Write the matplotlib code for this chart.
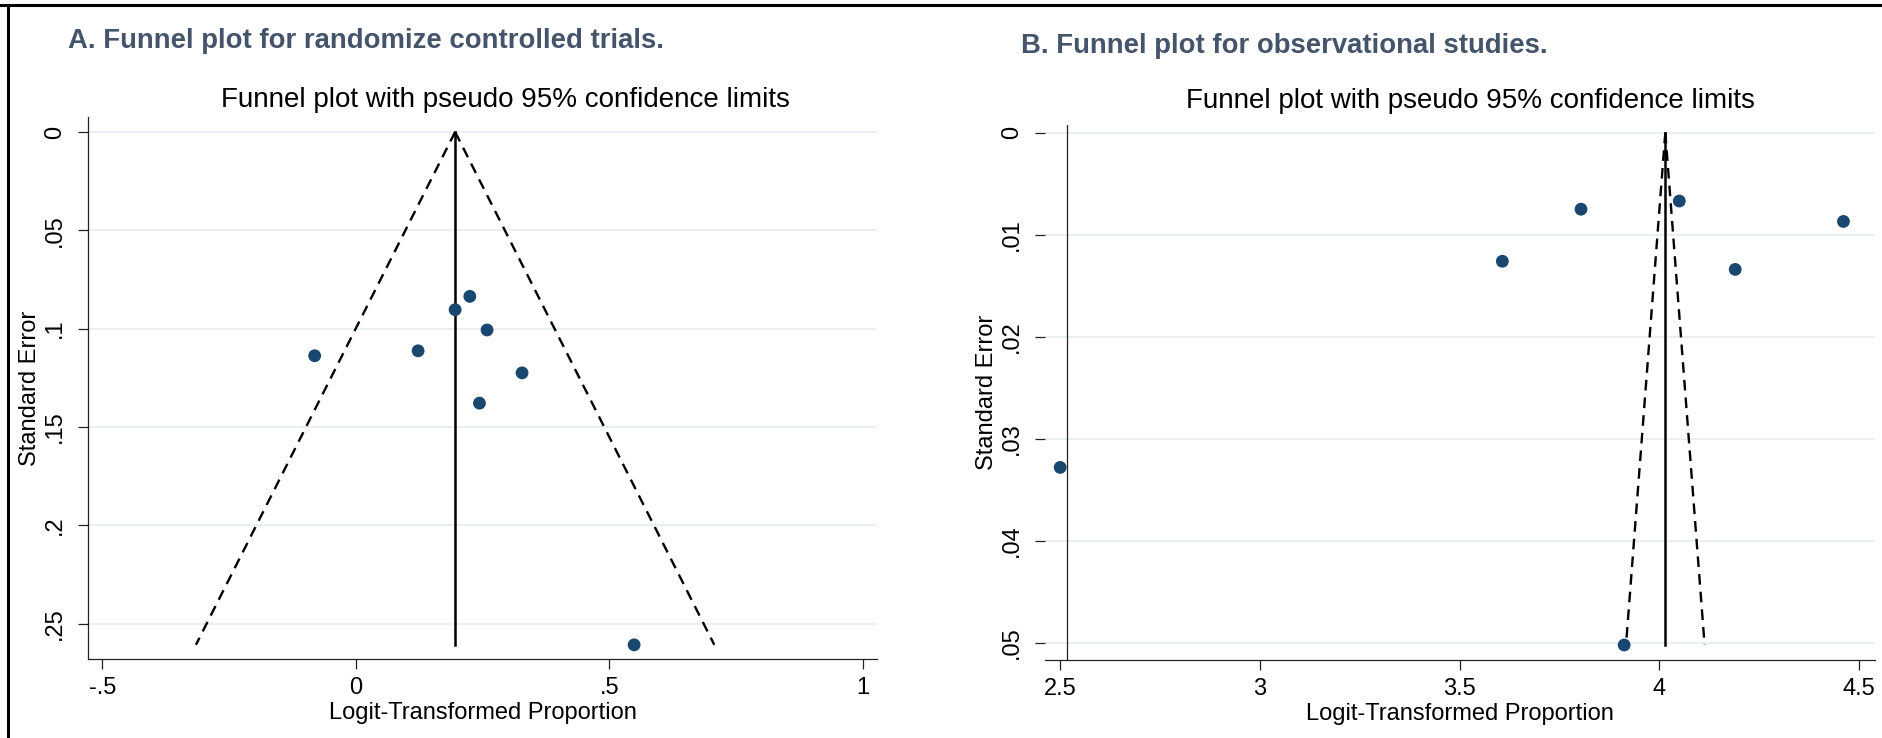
import matplotlib
matplotlib.use("Agg")
import matplotlib.pyplot as plt
from matplotlib.lines import Line2D
import numpy as np

# ---------------- data ----------------
rct_effect = [-0.081, 0.123, 0.196, 0.225, 0.259, 0.328, 0.244, 0.549]
rct_se = [0.1138, 0.1113, 0.0904, 0.0836, 0.1007, 0.1225, 0.1379, 0.2608]
rct_pooled = 0.196

obs_effect = [2.500, 3.607, 3.804, 3.912, 4.050, 4.190, 4.461]
obs_se = [0.0328, 0.0126, 0.0075, 0.0502, 0.0067, 0.0134, 0.0087]
obs_pooled = 4.015

rct_xticks = [-0.5, 0, 0.5, 1]
rct_xticklabels = ["-.5", "0", ".5", "1"]
rct_yticks = [0, 0.05, 0.1, 0.15, 0.2, 0.25]
rct_yticklabels = ["0", ".05", ".1", ".15", ".2", ".25"]

obs_xticks = [2.5, 3, 3.5, 4, 4.5]
obs_xticklabels = ["2.5", "3", "3.5", "4", "4.5"]
obs_yticks = [0, 0.01, 0.02, 0.03, 0.04, 0.05]
obs_yticklabels = ["0", ".01", ".02", ".03", ".04", ".05"]

panel_titles = ["A. Funnel plot for randomize controlled trials.",
                "B. Funnel plot for observational studies."]
sub_title = "Funnel plot with pseudo 95% confidence limits"
xlabel = "Logit-Transformed Proportion"
ylabel = "Standard Error"

# ---------------- style ----------------
W, H = 1882, 738
FONT = "Liberation Sans"
MARKER = "#1a476f"
GRID = "#e9f0f2"
TITLE_COL = "#44546a"

fig = plt.figure(figsize=(W / 100, H / 100), dpi=100)
fig.patch.set_facecolor("white")


def px_axes(left, top, right, bottom):
    return fig.add_axes([left / W, 1 - bottom / H, (right - left) / W, (bottom - top) / H])


def funnel(ax, eff, se, pooled, xlim, ylim, xt, xtl, yt, ytl):
    semax = max(se)
    s = np.array([0.0, semax])
    dash = (0, (4.5, 3))
    ax.plot(pooled - 1.96 * s, s, color="black", lw=1.7, ls=dash, zorder=3)
    ax.plot(pooled + 1.96 * s, s, color="black", lw=1.7, ls=dash, zorder=3)
    ax.plot([pooled, pooled], [0, semax], color="black", lw=1.8, zorder=3)
    ax.scatter(eff, se, s=85, color=MARKER, edgecolor="none", zorder=4)
    ax.set_xlim(*xlim)
    ax.set_ylim(*ylim)
    ax.set_xticks(xt)
    ax.set_xticklabels(xtl)
    ax.set_yticks(yt)
    ax.set_yticklabels(ytl, rotation=90, va="center")
    ax.grid(axis="y", color=GRID, lw=1.4, zorder=0)
    ax.set_axisbelow(True)
    for sp in ["top", "right"]:
        ax.spines[sp].set_visible(False)
    for sp in ["left", "bottom"]:
        ax.spines[sp].set_color("#222222")
        ax.spines[sp].set_linewidth(0.9)
    ax.tick_params(axis="x", direction="out", length=7, width=0.9, color="#222222",
                   labelsize=17, pad=6)
    ax.tick_params(axis="y", direction="out", length=7, width=0.9, color="#222222",
                   labelsize=17, pad=9)
    for lab in ax.get_xticklabels() + ax.get_yticklabels():
        lab.set_fontfamily(FONT)
    ax.set_xlabel(xlabel, fontsize=17, family=FONT, labelpad=2)
    ax.set_ylabel(ylabel, fontsize=17, family=FONT, labelpad=2)


# Panel A
axA = px_axes(88, 117, 877, 659)
funnel(axA, rct_effect, rct_se, rct_pooled, (-0.528, 1.028), (0.268, -0.0076),
       rct_xticks, rct_xticklabels, rct_yticks, rct_yticklabels)

# Panel B
axB = px_axes(1045, 125, 1875, 660)
funnel(axB, obs_effect, obs_se, obs_pooled, (2.462, 4.540), (0.05167, -0.00075),
       obs_xticks, obs_xticklabels, obs_yticks, obs_yticklabels)
axB.spines["left"].set_visible(False)
axB.axvline(2.517, color="#222222", lw=0.9, zorder=2)

# Titles
fig.text(505 / W, 1 - 107 / H, sub_title, ha="center", va="baseline", fontsize=20, family=FONT)
fig.text(1470 / W, 1 - 108 / H, sub_title, ha="center", va="baseline", fontsize=20, family=FONT)
fig.text(68 / W, 1 - 48 / H, panel_titles[0], ha="left", va="baseline", fontsize=19.8,
         family=FONT, weight="bold", color=TITLE_COL)
fig.text(1021 / W, 1 - 53 / H, panel_titles[1], ha="left", va="baseline", fontsize=19.8,
         family=FONT, weight="bold", color=TITLE_COL)

# Outer frame (top and left edges)
fig.add_artist(Line2D([0, 1], [1 - 5 / H, 1 - 5 / H], transform=fig.transFigure, color="black", lw=2.2))
fig.add_artist(Line2D([8 / W, 8 / W], [0, 1 - 5 / H], transform=fig.transFigure, color="black", lw=2.2))

fig.savefig("out.png", dpi=100, facecolor="white")
